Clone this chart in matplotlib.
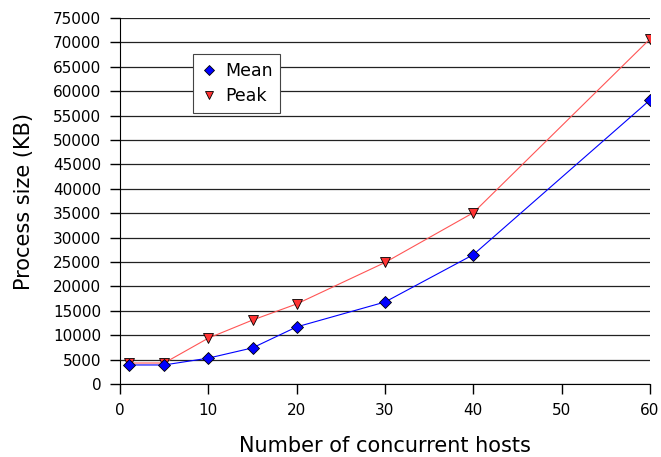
import matplotlib.pyplot as plt

hosts = [1, 5, 10, 15, 20, 30, 40, 60]
mean_kb = [3900, 3900, 5300, 7400, 11700, 16800, 26500, 58200]
peak_kb = [4300, 4300, 9400, 13100, 16400, 24900, 35100, 70700]

fig = plt.figure(figsize=(6.61, 4.57), dpi=100)
ax = fig.add_axes([120 / 661, 1 - 384 / 457, 530 / 661, 366 / 457])

# grid lines behind the data
ax.set_axisbelow(True)
ax.yaxis.grid(True, color='#222222', linewidth=0.9)

ax.plot(hosts, mean_kb, color='blue', linewidth=0.8, marker='D', markersize=6,
        markerfacecolor='blue', markeredgecolor='black', markeredgewidth=0.6,
        label='Mean', zorder=3)
ax.plot(hosts, peak_kb, color='#ff5555', linewidth=0.8, marker='v', markersize=7,
        markerfacecolor='#ff3333', markeredgecolor='black', markeredgewidth=0.6,
        label='Peak', zorder=2)

ax.set_xlim(0, 60)
ax.set_ylim(0, 75000)
ax.set_xticks(range(0, 61, 10))
ax.set_yticks(range(0, 75001, 5000))
ax.tick_params(direction='out', length=7.5, labelsize=11, width=1, pad=6)
ax.spines['top'].set_visible(False)
ax.spines['right'].set_visible(False)

ax.set_xlabel('Number of concurrent hosts', fontsize=15, labelpad=13)
ax.set_ylabel('Process size (KB)', fontsize=15, labelpad=14)

# legend box with square corners, markers only
leg = ax.legend(loc='upper left', bbox_to_anchor=(0.121, 0.926), fontsize=12.5,
                fancybox=False, framealpha=1, edgecolor='#444444',
                handletextpad=0.4, handlelength=1.0, borderpad=0.45,
                labelspacing=0.45, markerscale=0.9)
leg.get_frame().set_linewidth(0.8)
for h in leg.legend_handles:
    h.set_linestyle('None')

fig.savefig('out.png', dpi=100)
